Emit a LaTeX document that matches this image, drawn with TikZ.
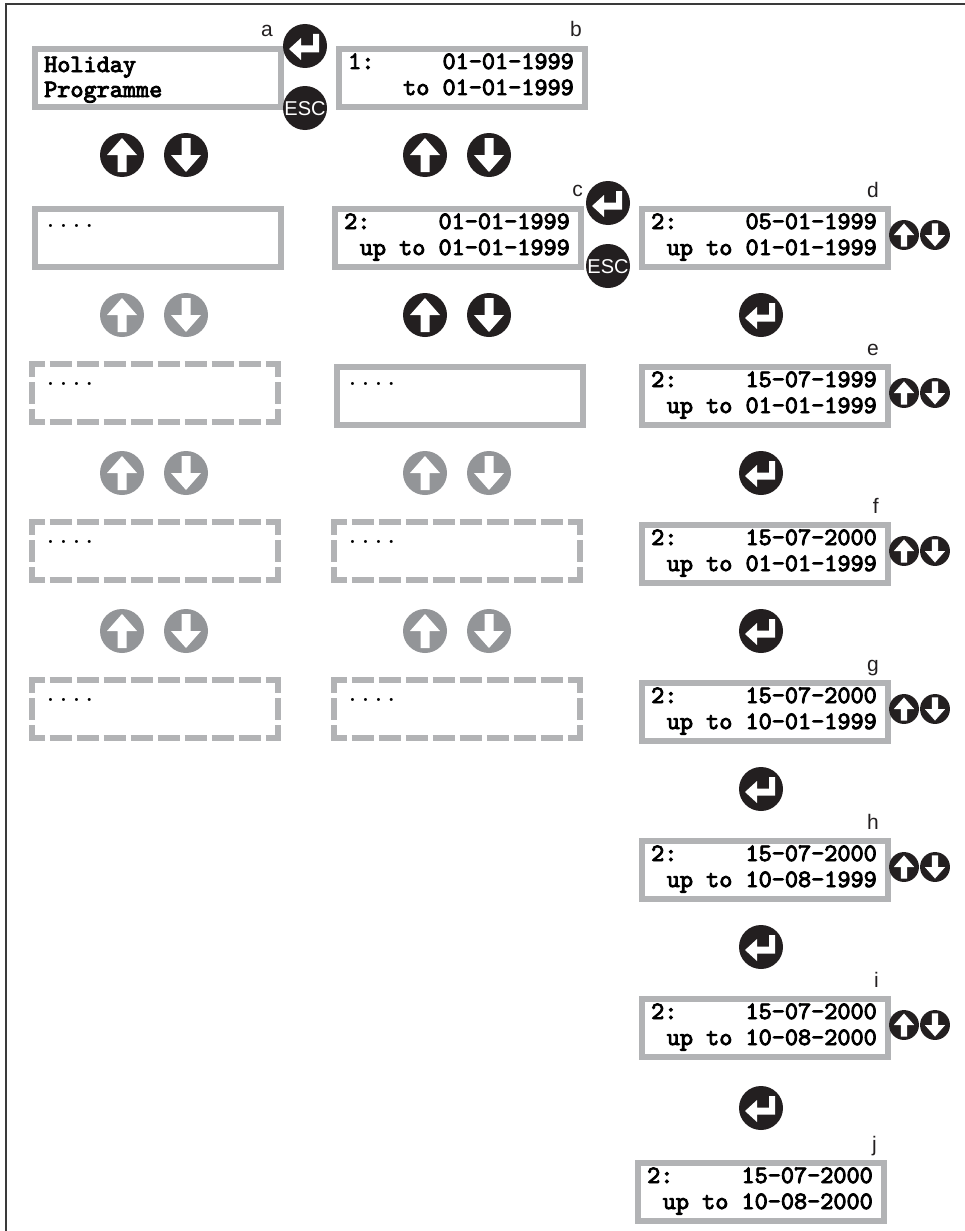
\documentclass[tikz,border=0pt]{standalone}
\usepackage{fontspec}
\newfontfamily\lblfont{Liberation Sans}
\newfontfamily\lcdfont{lmmono10-regular.otf}
\newfontfamily\lcdbold{lmmono10-regular.otf}[FakeBold=3.6]
\definecolor{boxgray}{HTML}{B2B3B5}
\definecolor{btngray}{HTML}{939598}
\definecolor{btnblack}{HTML}{231F20}
\definecolor{framegray}{HTML}{3A3A3A}
\tikzset{
  lcd/.style={draw=boxgray, line width=6pt, minimum width=246pt, minimum height=58pt, inner sep=0pt, anchor=north west},
  ghost/.style={draw=none, minimum width=246pt, minimum height=58pt, inner sep=0pt, anchor=north west},
  dh/.style={draw=boxgray, line width=6pt, dash pattern=on 22pt off 5pt, dash phase=6.5pt},
  dv/.style={draw=boxgray, line width=6pt, dash pattern=on 22pt off 5pt, dash phase=6pt},
  txt/.style={font=\lcdbold\fontsize{25}{26}\selectfont, inner sep=0pt, text=black},
  dots/.style={font=\lcdfont\fontsize{24.6}{26}\selectfont, inner sep=0pt, text=black},
  lbl/.style={font=\lblfont\fontsize{21}{21}\selectfont, inner sep=0pt, text=btnblack, anchor=base east},
  pics/upbtn/.style={code={
    \fill[#1] (0,0) circle (22);
    \fill[white] (0,-17)--(15,0)--(4.5,0)--(4.5,17)--(-4.5,17)--(-4.5,0)--(-15,0)--cycle;}},
  pics/downbtn/.style={code={
    \fill[#1] (0,0) circle (22);
    \fill[white] (0,17)--(15,0)--(4.5,0)--(4.5,-17)--(-4.5,-17)--(-4.5,0)--(-15,0)--cycle;}},
  pics/enterbtn/.style={code={
    \fill[btnblack] (0,0) circle (22);
    \fill[white] (-16,3)--(-4,-8)--(-4,-0.5)--(8,-0.5)--(8,-12)--(14,-12)--(14,6.5)--(-4,6.5)--(-4,14)--cycle;}},
  pics/escbtn/.style={code={
    \fill[btnblack] (0,0) circle (22);
    \node[font=\lblfont\fontsize{20}{20}\selectfont, text=white, inner sep=0pt] (-t) at (0,1) {ESC};}},
}
\newcommand\lcdbox[6]{%
  \node[lcd] (#1) at (#2+3,#3+3) {};
  \node[txt, anchor=base west] (#1-l) at ([shift={(12,23)}]#1.north west) {#4};
  \node[txt, anchor=base east] (#1-r) at ([shift={(-14,23)}]#1.north east) {#5};
  \node[txt, anchor=base east] (#1-b) at ([shift={(-14,49)}]#1.north east) {#6};
}
\newcommand\dotbox[3]{%
  \node[lcd] (#1) at (#2+3,#3+3) {};
  \node[dots, anchor=base west] (#1-l) at ([shift={(12,21)}]#1.north west) {....};
}
\newcommand\dshbox[3]{%
  \node[ghost] (#1) at (#2+3,#3+3) {};
  \draw[dh] ([xshift=-3pt]#1.north west) -- ([xshift=3pt]#1.north east);
  \draw[dh] ([xshift=-3pt]#1.south west) -- ([xshift=3pt]#1.south east);
  \draw[dv] ([yshift=3pt]#1.north west) -- ([yshift=-3pt]#1.south west);
  \draw[dv] ([yshift=3pt]#1.north east) -- ([yshift=-3pt]#1.south east);
  \node[dots, anchor=base west] (#1-l) at ([shift={(12,21)}]#1.north west) {....};
}
\begin{document}
\begin{tikzpicture}[x=1pt,y=-1pt]
\useasboundingbox (0,0) rectangle (965,1231);
\draw[framegray, line width=2pt] (6,1231) -- (6,4.5) -- (965,4.5);

% column 1
\node[lcd] (a) at (32,46) {};
\node[txt, anchor=base west] (a-l) at ([shift={(12,26)}]a.north west) {Holiday};
\node[txt, anchor=base west] (a-b) at ([shift={(12,51)}]a.north west) {Programme};
\dotbox{p1}{29}{203}
\dshbox{p2}{29}{361}
\dshbox{p3}{29}{519}
\dshbox{p4}{29}{677}

% column 2
\lcdbox{b}{333}{43}{1:}{01-01-1999}{to 01-01-1999}
\lcdbox{c}{329}{203}{2:}{01-01-1999}{up to 01-01-1999}
\dotbox{q2}{331}{361}
\dshbox{q3}{331}{519}
\dshbox{q4}{331}{677}

% column 3
\lcdbox{d}{636}{203}{2:}{05-01-1999}{up to 01-01-1999}
\lcdbox{e}{636}{361}{2:}{15-07-1999}{up to 01-01-1999}
\lcdbox{f}{636}{519}{2:}{15-07-2000}{up to 01-01-1999}
\lcdbox{g}{636}{677}{2:}{15-07-2000}{up to 10-01-1999}
\lcdbox{h}{636}{835}{2:}{15-07-2000}{up to 10-08-1999}
\lcdbox{i}{636}{993}{2:}{15-07-2000}{up to 10-08-2000}
\lcdbox{j}{632}{1157}{2:}{15-07-2000}{up to 10-08-2000}

% labels
\node[lbl] (la) at (273,37) {a};
\node[lbl] (lb) at (582,37) {b};
\node[lbl] (lc) at (583,196) {c};
\node[lbl] (ld) at (879,197) {d};
\node[lbl] (le) at (879,355) {e};
\node[lbl] (lf) at (879,513) {f};
\node[lbl] (lg) at (879,671) {g};
\node[lbl] (lh) at (879,829) {h};
\node[lbl] (li) at (879,987) {i};
\node[lbl] (lj) at (877,1151) {j};

% enter / esc
\pic (en-a) at (305,46) {enterbtn};
\pic (esc-a) at (305,108) {escbtn};
\pic (en-c) at (608,203) {enterbtn};
\pic (esc-c) at (608,266) {escbtn};
\foreach \y/\n in {315/1,473/2,631/3,789/4,947/5,1108/6}
  \pic (en-\n) at (761,\y) {enterbtn};

% up/down buttons column 1 and 2
\pic (u11) at (122,155) {upbtn=btnblack};
\pic (d11) at (186,155) {downbtn=btnblack};
\pic (u21) at (425,155) {upbtn=btnblack};
\pic (d21) at (489,155) {downbtn=btnblack};
\pic (u22) at (425,315) {upbtn=btnblack};
\pic (d22) at (489,315) {downbtn=btnblack};
\foreach \y/\n in {315/2,473/3,631/4}{
  \pic (u1\n) at (122,\y) {upbtn=btngray};
  \pic (d1\n) at (186,\y) {downbtn=btngray};
}
\foreach \y/\n in {473/3,631/4}{
  \pic (u2\n) at (425,\y) {upbtn=btngray};
  \pic (d2\n) at (489,\y) {downbtn=btngray};
}
% small up/down column 3
\foreach \y/\n in {235/d,393/e,551/f,709/g,867/h,1025/i}{
  \pic[scale=0.68] (su-\n) at (904,\y) {upbtn=btnblack};
  \pic[scale=0.68] (sd-\n) at (935,\y) {downbtn=btnblack};
}
\end{tikzpicture}
\end{document}
